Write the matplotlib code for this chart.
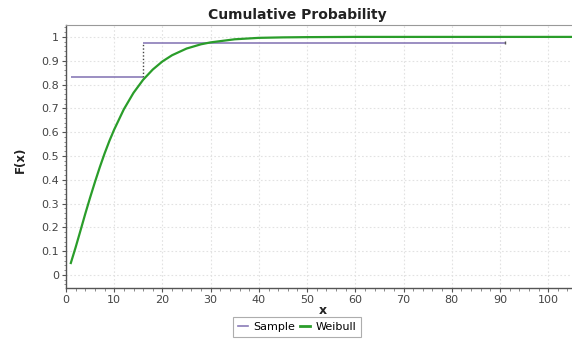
import matplotlib
matplotlib.use("Agg")
import matplotlib.pyplot as plt
from matplotlib.ticker import MultipleLocator
from matplotlib.lines import Line2D

# Data
weibull_x = [1, 2, 3, 4, 5, 6, 7, 8, 9, 10, 12, 14, 16, 18, 20, 22, 25, 28, 30,
             35, 40, 45, 50, 60, 70, 80, 90, 100, 107]
weibull_f = [0.050, 0.116, 0.186, 0.257, 0.325, 0.390, 0.452, 0.510, 0.563, 0.611,
             0.696, 0.765, 0.820, 0.863, 0.897, 0.923, 0.951, 0.969, 0.977,
             0.990, 0.996, 0.998, 0.999, 1.0, 1.0, 1.0, 1.0, 1.0, 1.0]
sample_x = [1, 16, 91]          # step edges
sample_f = [0.83, 0.976]        # level between consecutive edges

title = "Cumulative Probability"
xlabel = "x"
ylabel = "F(x)"
xticks = [0, 10, 20, 30, 40, 50, 60, 70, 80, 90, 100]
yticks = [0, 0.1, 0.2, 0.3, 0.4, 0.5, 0.6, 0.7, 0.8, 0.9, 1]

W, H = 572, 345
plt.rcParams['font.family'] = ['DejaVu Sans']
fig = plt.figure(figsize=(W / 100, H / 100), dpi=100)

ax_l, ax_r, ax_t, ax_b = 66, 580, 25, 288
ax = fig.add_axes([ax_l / W, 1 - ax_b / H, (ax_r - ax_l) / W, (ax_b - ax_t) / H])

purple = "#8a7bb8"
green = "#2a9d2a"

# Sample step
for i, lvl in enumerate(sample_f):
    ax.hlines(lvl, sample_x[i], sample_x[i + 1], color=purple, lw=1.2, zorder=3)
for i in range(1, len(sample_f)):
    ax.vlines(sample_x[i], sample_f[i - 1], sample_f[i], color="#444444", lw=1.0,
              linestyles=(0, (1, 1.5)), zorder=3)
ax.vlines(sample_x[-1], sample_f[-1] - 0.006, sample_f[-1] + 0.006, color="#555555", lw=1.0, zorder=3)

# Weibull curve
ax.plot(weibull_x, weibull_f, color=green, lw=1.6, zorder=4)

ax.set_xlim(0, 106.6)
ax.set_ylim(-0.055, 1.05)
ax.set_xticks(xticks)
ax.set_yticks(yticks)
ax.set_yticklabels([("%g" % v) for v in yticks])
ax.xaxis.set_minor_locator(MultipleLocator(2))
ax.yaxis.set_minor_locator(MultipleLocator(0.02))
ax.tick_params(which='major', direction='out', length=3, width=0.8, colors="#555555",
               labelsize=8, labelcolor="#444444", pad=2)
ax.tick_params(which='minor', direction='out', length=1.8, width=0.6, colors="#777777")
ax.grid(True, which='major', color="#e2e2e2", lw=0.8, linestyle=(0, (1.5, 2)))
ax.set_axisbelow(True)

for s in ['left', 'bottom']:
    ax.spines[s].set_color("#555555")
    ax.spines[s].set_linewidth(1.0)
ax.spines['top'].set_color("#999999")
ax.spines['right'].set_visible(False)

fig.text(297 / W, 1 - 15 / H, title, ha='center', va='center', fontsize=10,
         fontweight='bold', color="#222222")
fig.text(323 / W, 1 - 310 / H, xlabel, ha='center', va='center', fontsize=9,
         fontweight='bold', color="#222222")
fig.text(20 / W, 1 - 160 / H, ylabel, ha='center', va='center', fontsize=8.5,
         fontweight='bold', color="#222222", rotation=90)

handles = [Line2D([], [], color=purple, lw=1.2), Line2D([], [], color=green, lw=2)]
leg = fig.legend(handles, ["Sample", "Weibull"], loc='center',
                 bbox_to_anchor=(297 / W, 1 - 327 / H), ncol=2, fontsize=8,
                 frameon=True, fancybox=False, handlelength=0.9, handletextpad=0.45,
                 columnspacing=0.5, borderpad=0.45, borderaxespad=0)
leg.get_frame().set_edgecolor("#999999")
leg.get_frame().set_linewidth(0.8)

fig.savefig("out.png", dpi=100)
